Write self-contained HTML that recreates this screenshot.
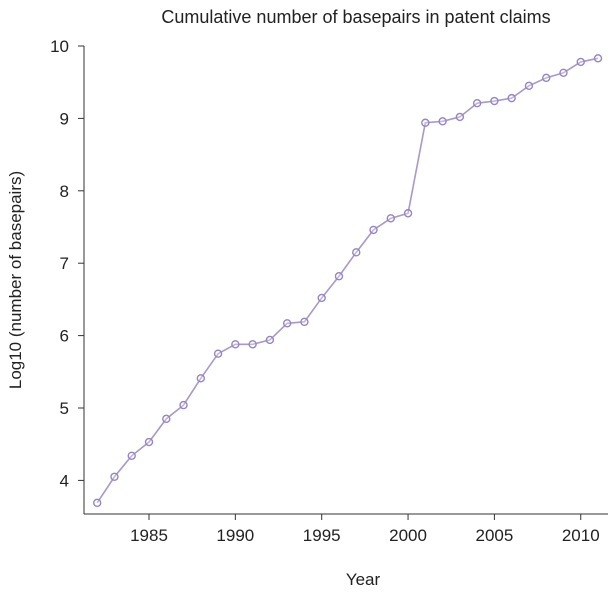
<!DOCTYPE html>
<html><head><meta charset="utf-8"><style>
body{margin:0;background:#fff;}
svg text{font-family:"Liberation Sans",sans-serif;fill:#222;}
</style></head><body>
<svg id="chart" width="614" height="592" xmlns="http://www.w3.org/2000/svg">
<text x="356" y="23" font-size="18" text-anchor="middle">Cumulative number of basepairs in patent claims</text>
<text x="363" y="585" font-size="17" text-anchor="middle">Year</text>
<text transform="translate(21,280) rotate(-90)" font-size="17" text-anchor="middle">Log10 (number of basepairs)</text>
<line x1="84" y1="46" x2="84" y2="514" stroke="#333" stroke-width="1"/>
<line x1="84" y1="514" x2="608" y2="514" stroke="#333" stroke-width="1"/>
<g id="ticks"></g>
<polyline id="series-line" fill="none" stroke="#a898cc" stroke-width="1.6"/>
<g id="points"></g>
</svg>
<script>
const years=[1982,1983,1984,1985,1986,1987,1988,1989,1990,1991,1992,1993,1994,1995,1996,1997,1998,1999,2000,2001,2002,2003,2004,2005,2006,2007,2008,2009,2010,2011];
const values=[3.69,4.05,4.34,4.53,4.85,5.04,5.41,5.75,5.88,5.88,5.94,6.17,6.19,6.52,6.82,7.15,7.46,7.62,7.69,8.94,8.96,9.02,9.21,9.24,9.28,9.45,9.56,9.63,9.78,9.83];
const xTicks=[1985,1990,1995,2000,2005,2010];
const yTicks=[4,5,6,7,8,9,10];
const NS="http://www.w3.org/2000/svg";
function xs(y){return 149+(y-1985)*17.27;}
function ys(v){return 46+(10-v)*72.4;}
const tg=document.getElementById('ticks');
xTicks.forEach(t=>{
 const l=document.createElementNS(NS,'line');
 
 
 l.setAttribute('x1',xs(t));l.setAttribute('x2',xs(t));l.setAttribute('y1',514);l.setAttribute('y2',520);l.setAttribute('stroke','#333');
 tg.appendChild(l);
 const tx=document.createElementNS(NS,'text');
 
 
 tx.setAttribute('x',xs(t));tx.setAttribute('y',541);tx.setAttribute('font-size','17');tx.setAttribute('text-anchor','middle');
 tx.textContent=t;tg.appendChild(tx);
});
yTicks.forEach(t=>{
 const l=document.createElementNS(NS,'line');
 
 
 l.setAttribute('x1',78);l.setAttribute('x2',84);l.setAttribute('y1',ys(t));l.setAttribute('y2',ys(t));l.setAttribute('stroke','#333');
 tg.appendChild(l);
 const tx=document.createElementNS(NS,'text');
 
 
 tx.setAttribute('x',69);tx.setAttribute('y',ys(t)+6);tx.setAttribute('font-size','17');tx.setAttribute('text-anchor','end');
 tx.textContent=t;tg.appendChild(tx);
});
document.getElementById('series-line').setAttribute('points',years.map((y,i)=>xs(y)+','+ys(values[i])).join(' '));
const pg=document.getElementById('points');
years.forEach((y,i)=>{
 const c=document.createElementNS(NS,'circle');
 
 
 c.setAttribute('cx',xs(y));c.setAttribute('cy',ys(values[i]));c.setAttribute('r',3.5);
 c.setAttribute('fill','#fff');c.setAttribute('fill-opacity','0.3');c.setAttribute('stroke','#9585c0');c.setAttribute('stroke-width','1.4');
 pg.appendChild(c);
});
</script>
</body></html>
